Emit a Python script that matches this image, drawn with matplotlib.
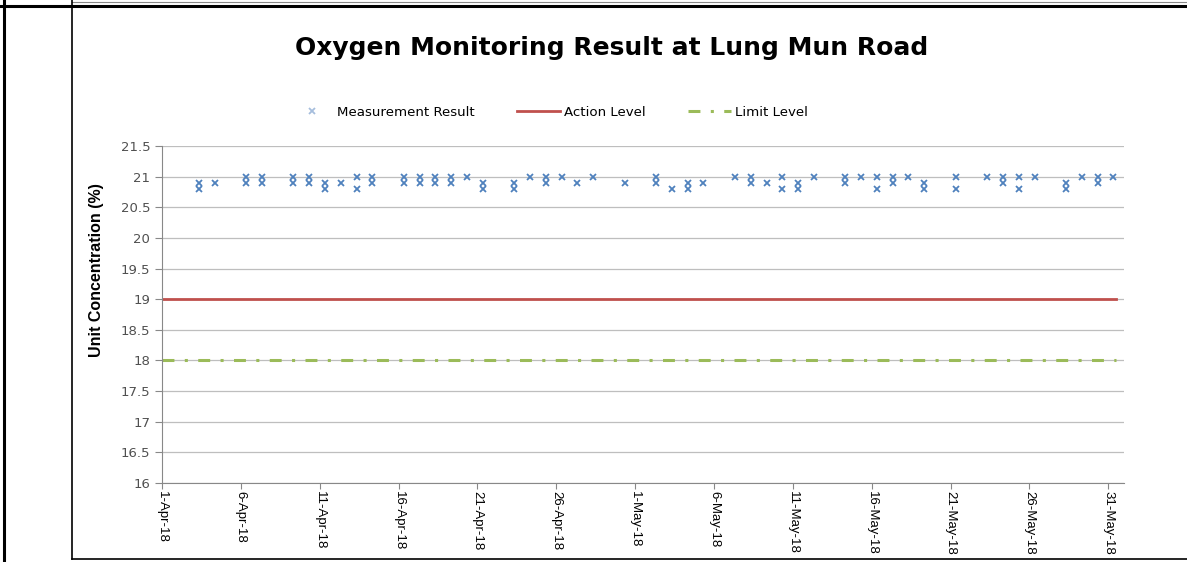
import numpy as np
import pandas as pd
import matplotlib
matplotlib.use('Agg')
import matplotlib.pyplot as plt
from matplotlib.lines import Line2D

# measurement results (two readings on most days)
dates = ['2018-04-03', '2018-04-03', '2018-04-04', '2018-04-06', '2018-04-06',
         '2018-04-07', '2018-04-07', '2018-04-09', '2018-04-09', '2018-04-10',
         '2018-04-10', '2018-04-11', '2018-04-11', '2018-04-12', '2018-04-13',
         '2018-04-13', '2018-04-14', '2018-04-14', '2018-04-16', '2018-04-16',
         '2018-04-17', '2018-04-17', '2018-04-18', '2018-04-18', '2018-04-19',
         '2018-04-19', '2018-04-20', '2018-04-21', '2018-04-21', '2018-04-23',
         '2018-04-23', '2018-04-24', '2018-04-25', '2018-04-25', '2018-04-26',
         '2018-04-27', '2018-04-28', '2018-04-30', '2018-05-02', '2018-05-02',
         '2018-05-03', '2018-05-04', '2018-05-04', '2018-05-05', '2018-05-07',
         '2018-05-08', '2018-05-08', '2018-05-09', '2018-05-10', '2018-05-10',
         '2018-05-11', '2018-05-11', '2018-05-12', '2018-05-14', '2018-05-14',
         '2018-05-15', '2018-05-16', '2018-05-16', '2018-05-17', '2018-05-17',
         '2018-05-18', '2018-05-19', '2018-05-19', '2018-05-21', '2018-05-21',
         '2018-05-23', '2018-05-24', '2018-05-24', '2018-05-25', '2018-05-25',
         '2018-05-26', '2018-05-28', '2018-05-28', '2018-05-29', '2018-05-30',
         '2018-05-30', '2018-05-31']
values = [20.9, 20.8, 20.9, 21.0, 20.9,
          21.0, 20.9, 21.0, 20.9, 21.0,
          20.9, 20.9, 20.8, 20.9, 21.0,
          20.8, 21.0, 20.9, 21.0, 20.9,
          21.0, 20.9, 21.0, 20.9, 21.0,
          20.9, 21.0, 20.9, 20.8, 20.9,
          20.8, 21.0, 21.0, 20.9, 21.0,
          20.9, 21.0, 20.9, 21.0, 20.9,
          20.8, 20.9, 20.8, 20.9, 21.0,
          21.0, 20.9, 20.9, 21.0, 20.8,
          20.9, 20.8, 21.0, 21.0, 20.9,
          21.0, 21.0, 20.8, 21.0, 20.9,
          21.0, 20.9, 20.8, 21.0, 20.8,
          21.0, 21.0, 20.9, 21.0, 20.8,
          21.0, 20.9, 20.8, 21.0, 21.0,
          20.9, 21.0]

action_level = 19
limit_level = 18
line_span = ['2018-04-01 00:00', '2018-05-31 12:00']

t = pd.to_datetime(dates) + pd.Timedelta(hours=8)
span = pd.to_datetime(line_span)

fig = plt.figure(figsize=(11.87, 5.62), dpi=100)
ax = fig.add_axes([162 / 1187, 1 - 483 / 562, (1124 - 162) / 1187, (483 - 146) / 562])

# table frame around the chart
fig.add_artist(Line2D([4 / 1187, 4 / 1187], [0, 1], color='black', lw=2.2))
fig.add_artist(Line2D([0, 1], [1 - 6 / 562, 1 - 6 / 562], color='black', lw=2.2))
fig.add_artist(Line2D([72 / 1187, 1], [1 - 1.5 / 562, 1 - 1.5 / 562], color='#888888', lw=0.8))
fig.add_artist(Line2D([72 / 1187, 72 / 1187], [1 - 559 / 562, 1], color='black', lw=1.2))
fig.add_artist(Line2D([72 / 1187, 1], [1 - 559 / 562, 1 - 559 / 562], color='black', lw=1.2))

ax.plot(t, values, linestyle='none', marker='x', color='#4F81BD', markersize=5,
        markeredgewidth=1.3, label='Measurement Result', zorder=3)
ax.plot(span, [action_level] * 2, color='#C0504D', lw=2, label='Action Level', zorder=2)
ax.plot(span, [limit_level] * 2, color='#9BBB59', lw=2.2, dashes=(3.9, 3.4, 1, 3.4),
        label='Limit Level', zorder=2)

ax.set_ylim(16, 21.5)
ax.set_yticks(np.arange(16, 21.51, 0.5))
ax.set_yticklabels(['16', '16.5', '17', '17.5', '18', '18.5', '19', '19.5', '20', '20.5', '21', '21.5'])
ax.set_xlim(pd.Timestamp('2018-04-01'), pd.Timestamp('2018-06-01'))
ticks = pd.date_range('2018-04-01', '2018-05-31', freq='5D')
ax.set_xticks(ticks)
ax.set_xticklabels([f'{d.day}-{d.strftime("%b")}-18' for d in ticks], rotation=270,
                   fontsize=9.5, family='Liberation Sans')

ax.grid(axis='y', color='#BEBEBE', lw=0.9)
ax.set_axisbelow(True)
for s in ['top', 'right']:
    ax.spines[s].set_visible(False)
for s in ['left', 'bottom']:
    ax.spines[s].set_color('#888888')
ax.tick_params(axis='y', colors='#888888', labelcolor='#505050', labelsize=9.5, length=5)
ax.tick_params(axis='x', colors='#888888', labelcolor='black', length=4, pad=2)

fig.text(97 / 1187, 1 - 270 / 562, 'Unit Concentration (%)', rotation=90, ha='center',
         va='center', fontsize=11.5, fontweight='bold', family='Liberation Sans')

fig.text(612 / 1187, 1 - 48 / 562, 'Oxygen Monitoring Result at Lung Mun Road',
         ha='center', va='center', fontsize=18, fontweight='bold')

leg = ax.legend(loc='center', bbox_to_anchor=(549 / 1187, 1 - 112 / 562),
                bbox_transform=fig.transFigure, ncol=3, frameon=False, fontsize=9.6,
                handlelength=3.2, columnspacing=3.2, handletextpad=0.3)
leg.legend_handles[0].set_color('#A6BEDD')

fig.savefig('out.png', dpi=100)
